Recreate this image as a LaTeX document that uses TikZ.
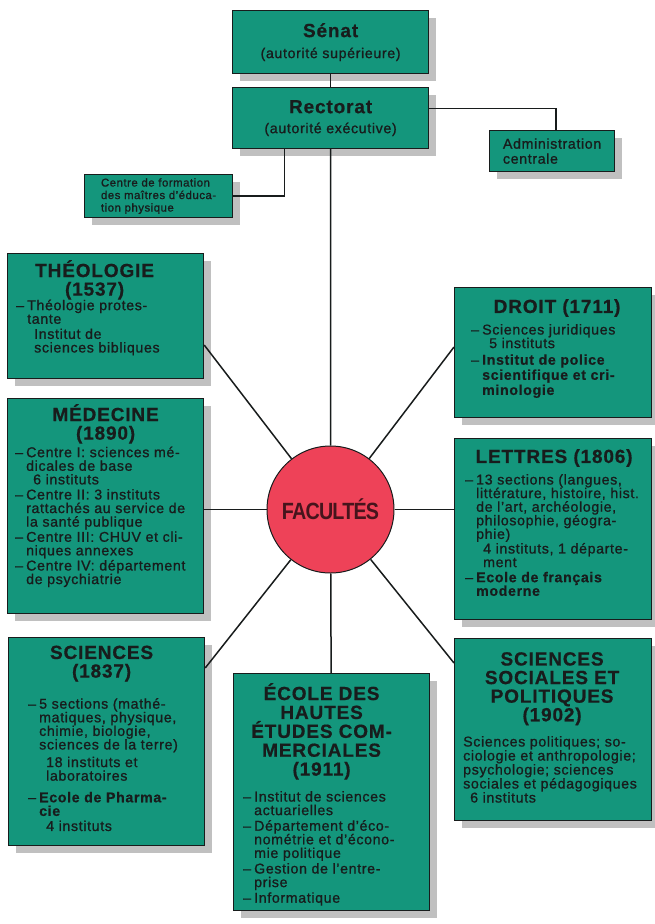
\documentclass[tikz,border=0pt]{standalone}
\usepackage{fontspec}
\setmainfont{Liberation Sans}[LetterSpace=4.5, UprightFeatures={FakeBold=1}, BoldFeatures={FakeBold=0.6}]
\newfontfamily\facfont{Liberation Sans}[LetterSpace=-4]
\usepackage{graphicx}
\usetikzlibrary{calc,positioning,shadows}

\definecolor{boxgreen}{RGB}{20,150,124}
\definecolor{facred}{RGB}{238,66,88}
\definecolor{shadowgrey}{RGB}{192,192,192}
\definecolor{ink}{RGB}{24,28,28}
\definecolor{facink}{RGB}{70,20,28}

% dash, hanging and sub-item indents
\newcommand{\itm}{\makebox[11pt][l]{–}}
\newcommand{\hng}{\hspace*{11pt}}
\newcommand{\subi}{\hspace*{18pt}}

\tikzset{
  card/.style={draw=ink, line width=1.2pt, fill=boxgreen, text=ink, anchor=north west, inner sep=0pt,
    drop shadow={shadow xshift=7pt, shadow yshift=-7pt, fill=shadowgrey, opacity=1}},
  head/.style={align=center, inner sep=0pt, text=ink, font=\fontsize{19}{18.6}\selectfont\bfseries},
  body/.style={align=left, inner sep=0pt, text=ink, font=\fontsize{14.2}{13.6}\selectfont},
  link/.style={draw=ink, line width=1.5pt},
}

\begin{document}
\begin{tikzpicture}[x=1pt, y=-1pt]
\useasboundingbox (0,0) rectangle (654,924);

% top of the organisation
\node[card, minimum width=196pt, minimum height=63pt, align=center, font=\fontsize{14.2}{21}\selectfont] (senat) at (232,10)
  {{\bfseries\fontsize{19}{21}\selectfont Sénat}\\(autorité supérieure)};
\node[card, minimum width=196pt, minimum height=61pt, align=center, font=\fontsize{14.2}{20}\selectfont] (rect) at (232,87)
  {{\bfseries\fontsize{19}{20}\selectfont Rectorat}\\(autorité exécutive)};
\node[card, minimum width=125pt, minimum height=41pt, align=left, font=\fontsize{14.2}{15}\selectfont] (admin) at (489,130)
  {Administration\\centrale};
\node[card, minimum width=148pt, minimum height=43pt, align=left, font=\fontsize{11.4}{12.5}\selectfont] (cfm) at (84,174)
  {Centre de formation\\des maîtres d’éduca-\\tion physique};

% faculties
\node[circle, draw=ink, line width=1pt, fill=facred, minimum size=127pt, inner sep=0pt, text=facink] (fac) at (330.5,509.5)
  {\facfont\bfseries\fontsize{23.5}{23.5}\selectfont\scalebox{0.84}[1]{FACULTÉS}};

\node[card, minimum width=196pt, minimum height=125pt] (theo) at (7,253) {};
\node[head, below=7pt of theo.north, xshift=-11pt] (theo-h) {THÉOLOGIE\\(1537)};
\node[body, below right=46.5pt and 9pt of theo.north west] (theo-b)
  {\itm Théologie protes-\\
   \hng tante\\[1.5pt]
   \subi Institut de\\
   \subi sciences bibliques};

\node[card, minimum width=197pt, minimum height=130pt] (droit) at (454,287) {};
\node[head, below=12pt of droit.north, xshift=4pt] (droit-h) {DROIT (1711)};
\node[body, below right=37pt and 17pt of droit.north west] (droit-b)
  {\itm Sciences juridiques\\
   \subi 5 instituts\\[3pt]
   \itm\textbf{Institut de police}\\[1.5pt]
   \hng\textbf{scientifique et cri-}\\[1.5pt]
   \hng\textbf{minologie}};

\node[card, minimum width=196pt, minimum height=215pt] (med) at (7,398) {};
\node[head, below=6pt of med.north] (med-h) {MÉDECINE\\(1890)};
\node[body, below right=48.5pt and 8pt of med.north west] (med-b)
  {\itm Centre I: sciences mé-\\
   \hng dicales de base\\
   \subi 6 instituts\\[1.5pt]
   \itm Centre II: 3 instituts\\
   \hng rattachés au service de\\
   \hng la santé publique\\[1.5pt]
   \itm Centre III: CHUV et cli-\\
   \hng niques annexes\\[1.5pt]
   \itm Centre IV: département\\
   \hng de psychiatrie};

\node[card, minimum width=197pt, minimum height=181pt] (let) at (454,438) {};
\node[head, below=11pt of let.north, xshift=1pt] (let-h) {LETTRES (1806)};
\node[body, below right=36pt and 11pt of let.north west] (let-b)
  {\itm 13 sections (langues,\\
   \hng littérature, histoire, hist.\\
   \hng de l’art, archéologie,\\
   \hng philosophie, géogra-\\
   \hng phie)\\[1pt]
   \subi 4 instituts, 1 départe-\\
   \subi ment\\[1.5pt]
   \itm\textbf{Ecole de français}\\
   \hng\textbf{moderne}};

\node[card, minimum width=196pt, minimum height=208pt] (sci) at (8,637) {};
\node[head, below=8.5pt of sci.north, xshift=-5pt] (sci-h) {SCIENCES\\(1837)};
\node[body, below right=61pt and 20pt of sci.north west] (sci-b)
  {\itm 5 sections (mathé-\\
   \hng matiques, physique,\\
   \hng chimie, biologie,\\
   \hng sciences de la terre)\\[4pt]
   \subi 18 instituts et\\
   \subi laboratoires\\[8pt]
   \itm\textbf{Ecole de Pharma-}\\
   \hng\textbf{cie}\\[1.5pt]
   \subi 4 instituts};

\node[card, minimum width=196pt, minimum height=237pt] (hec) at (233,673) {};
\node[head, below=10pt of hec.north, xshift=-10pt, font=\fontsize{19}{18.9}\selectfont\bfseries] (hec-h)
  {ÉCOLE DES\\HAUTES\\ÉTUDES COM-\\MERCIALES\\(1911)};
\node[body, below right=118pt and 10pt of hec.north west] (hec-b)
  {\itm Institut de sciences\\
   \hng actuarielles\\[2pt]
   \itm Département d’éco-\\
   \hng nométrie et d’écono-\\
   \hng mie politique\\[2pt]
   \itm Gestion de l’entre-\\
   \hng prise\\[2pt]
   \itm Informatique};

\node[card, minimum width=197pt, minimum height=182pt] (soc) at (454,638) {};
\node[head, below=14pt of soc.north, xshift=-1pt] (soc-h)
  {SCIENCES\\SOCIALES ET\\POLITIQUES\\(1902)};
\node[body, below right=98pt and 9pt of soc.north west, font=\fontsize{14.2}{14}\selectfont] (soc-b)
  {Sciences politiques; so-\\
   ciologie et anthropologie;\\
   psychologie; sciences\\
   sociales et pédagogiques\\
   \hspace*{7pt}6 instituts};

% connectors
\draw[link] (senat) -- (rect);
\draw[link] (rect) -- (fac);
\draw[link] ($(rect.east)+(0,-9.5)$) -| ($(admin.north)+(4,0)$);
\draw[link] (cfm.east) -| ($(rect.south)+(-46,0)$);
\draw[link] (fac) -- (hec);
\draw[link] (fac) -- (fac -| med.east);
\draw[link] (fac) -- (fac -| let.west);
\draw[link] (fac) -- ($(theo.north east)+(0,92)$);
\draw[link] (fac) -- ($(droit.north west)+(0,60)$);
\draw[link] (fac) -- ($(sci.north east)+(0,31)$);
\draw[link] (fac) -- ($(soc.north west)+(0,25)$);
\end{tikzpicture}
\end{document}
